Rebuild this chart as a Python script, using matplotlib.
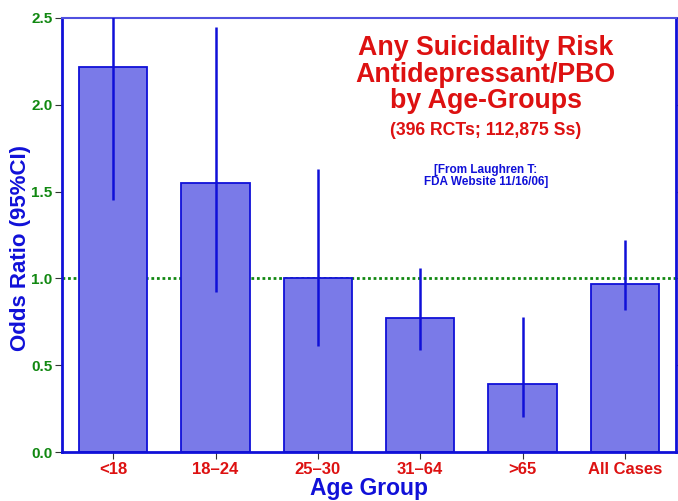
import matplotlib.pyplot as plt
import numpy as np

plt.rcParams['font.family'] = ['Liberation Sans', 'DejaVu Sans']
plt.rcParams['font.weight'] = 'bold'

# Дані
groups = ["<18", "18\u201324", "25\u201330", "31\u201364", ">65", "All Cases"]
odds_ratio = [2.22, 1.55, 1.00, 0.77, 0.39, 0.97]
ci_low = [1.45, 0.92, 0.61, 0.59, 0.20, 0.82]
ci_high = [2.60, 2.45, 1.63, 1.06, 0.78, 1.22]

blue = '#1010d8'
red = '#dd1111'
green = '#118811'

fig = plt.figure(figsize=(6.78, 5.01), dpi=100)
ax = fig.add_axes([62 / 678, 49 / 501, 614 / 678, 434 / 501])

x = np.arange(len(groups))
ax.bar(x, odds_ratio, width=0.67, color='#7a7ae8', edgecolor=blue, linewidth=1.3, zorder=2)
ax.vlines(x, ci_low, ci_high, color=blue, linewidth=1.8, zorder=3)
ax.axhline(1.0, color=green, linestyle=(0, (1, 1)), linewidth=2, zorder=1)

ax.set_xlim(-0.5, len(groups) - 0.5)
ax.set_ylim(0, 2.5)
ax.set_yticks([0, 0.5, 1.0, 1.5, 2.0, 2.5])
ax.set_yticklabels(["0.0", "0.5", "1.0", "1.5", "2.0", "2.5"])
ax.set_xticks(x)
ax.set_xticklabels(groups)

ax.tick_params(axis='y', colors='#333333', labelcolor=green, labelsize=11, direction='out', length=5, pad=2, right=True)
ax.tick_params(axis='x', colors='#333333', labelcolor=red, labelsize=12, direction='out', length=5, pad=2)
for lab in ax.get_xticklabels() + ax.get_yticklabels():
    lab.set_fontweight('bold')

for side in ['left', 'bottom', 'right']:
    ax.spines[side].set_color(blue)
    ax.spines[side].set_linewidth(2)
ax.spines['top'].set_color('#5050e0')
ax.spines['top'].set_linewidth(1.5)

ax.set_ylabel("Odds Ratio (95%CI)", color=blue, fontsize=16, fontweight='bold')
ax.yaxis.set_label_coords(-0.05, 0.47)
ax.set_xlabel("Age Group", color=blue, fontsize=16.5, fontweight='bold', labelpad=0)

ax.text(0.69, 0.96, "Any Suicidality Risk\nAntidepressant/PBO\nby Age-Groups", transform=ax.transAxes,
        ha='center', va='top', color=red, fontsize=19.3, fontweight='bold', linespacing=1.02)
ax.text(0.69, 0.76, "(396 RCTs; 112,875 Ss)", transform=ax.transAxes,
        ha='center', va='top', color=red, fontsize=12.7, fontweight='bold')
ax.text(0.69, 0.664, "[From Laughren T:\nFDA Website 11/16/06]", transform=ax.transAxes,
        ha='center', va='top', color=blue, fontsize=8.5, fontweight='bold', linespacing=1.0)

fig.savefig("out.png", dpi=100)
